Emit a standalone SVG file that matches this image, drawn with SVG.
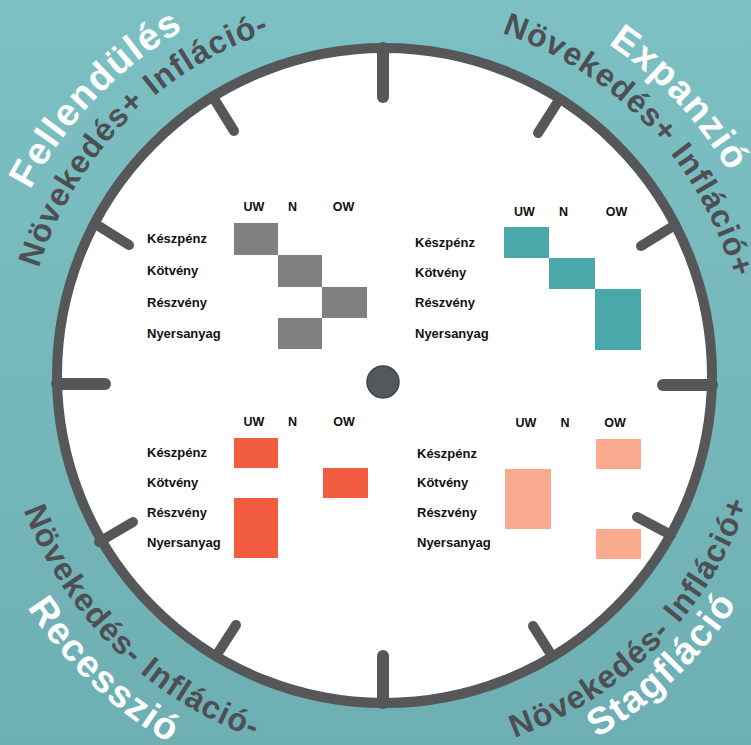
<svg xmlns="http://www.w3.org/2000/svg" xmlns:xlink="http://www.w3.org/1999/xlink" width="751" height="745" viewBox="0 0 751 745">
<defs>
<linearGradient id="bg" x1="0" y1="0" x2="0" y2="1">
<stop offset="0" stop-color="#7dc0c4"/>
<stop offset="1" stop-color="#6eafb3"/>
</linearGradient>
<path id="top362" d="M -232.7 -277.3 A 362 362 0 0 1 232.7 -277.3"/>
<path id="top400" d="M -257.1 -306.4 A 400 400 0 0 1 257.1 -306.4"/>
<path id="bot385" d="M -247.5 294.9 A 385 385 0 0 0 247.5 294.9"/>
<path id="bot426" d="M -273.8 326.3 A 426 426 0 0 0 273.8 326.3"/>
<path id="bot420" d="M -270.0 321.7 A 420 420 0 0 0 270.0 321.7"/>
<style>
.big{font-family:"Liberation Sans",Arial,sans-serif;font-weight:bold;font-size:38px;fill:#ffffff;letter-spacing:1.5px}
.sub{font-family:"Liberation Sans",Arial,sans-serif;font-weight:bold;font-size:32px;fill:#4d4f52;letter-spacing:1.2px}
.lbl{font-family:"Liberation Sans",Arial,sans-serif;font-weight:bold;font-size:13px;fill:#111}
.hdr{font-family:"Liberation Sans",Arial,sans-serif;font-weight:bold;font-size:12.5px;fill:#111;text-anchor:middle}
.tick{stroke:#555759;stroke-width:10;stroke-linecap:round;fill:none}
.axis{stroke:#555759;stroke-width:12;stroke-linecap:round;fill:none}
.gray{fill:#808080}
.teal{fill:#4aa8aa}
.red{fill:#f25c40}
.peach{fill:#f9aa8f}
</style>
</defs>
<rect width="751" height="745" fill="url(#bg)"/>
<g id="dial">
<circle cx="384.5" cy="375.5" r="327.5" fill="#ffffff"/>
<line class="axis" x1="383" y1="48" x2="383" y2="97"/>
<line class="axis" x1="383" y1="703" x2="383" y2="656"/>
<line class="axis" x1="57" y1="384" x2="105" y2="384"/>
<line class="axis" x1="712" y1="385" x2="663" y2="385"/>
<line class="tick" x1="213" y1="97" x2="234" y2="131"/>
<line class="tick" x1="97" y1="225" x2="129" y2="245"/>
<line class="tick" x1="559" y1="100" x2="538" y2="133"/>
<line class="tick" x1="675" y1="225" x2="641" y2="246"/>
<line class="tick" x1="99" y1="542" x2="133" y2="522"/>
<line class="tick" x1="216" y1="656" x2="236" y2="625"/>
<line class="tick" x1="671" y1="535" x2="637" y2="517"/>
<line class="tick" x1="552" y1="656" x2="533" y2="626"/>
<circle cx="384.5" cy="375.5" r="327.5" fill="none" stroke="#555759" stroke-width="10"/>
<circle cx="383" cy="382" r="16" fill="#53585b" stroke="#3f4345" stroke-width="1.5"/>
</g>
<g id="label-fellendules" transform="translate(384.5 375.5)">
<g transform="rotate(-46.2)"><text class="big" text-anchor="middle"><textPath href="#top400" xlink:href="#top400" startOffset="50%">Fellendülés</textPath></text></g>
<g transform="rotate(-45.6)"><text class="sub" text-anchor="middle"><textPath href="#top362" xlink:href="#top362" startOffset="50%">Növekedés+ Infláció-</textPath></text></g>
</g>
<g id="label-expanzio" transform="translate(384.5 375.5)">
<g transform="rotate(46.8)"><text class="big" text-anchor="middle"><textPath href="#top400" xlink:href="#top400" startOffset="50%">Expanzió</textPath></text></g>
<g transform="rotate(46.7)"><text class="sub" text-anchor="middle"><textPath href="#top362" xlink:href="#top362" startOffset="50%">Növekedés+ Infláció+</textPath></text></g>
</g>
<g id="label-recesszio" transform="translate(384.5 375.5)">
<g transform="rotate(43.6)"><text class="big" text-anchor="middle"><textPath href="#bot426" xlink:href="#bot426" startOffset="50%">Recesszió</textPath></text></g>
<g transform="rotate(44.6)"><text class="sub" text-anchor="middle"><textPath href="#bot385" xlink:href="#bot385" startOffset="50%">Növekedés- Infláció-</textPath></text></g>
</g>
<g id="label-stagflacio" transform="translate(384.5 375.5)">
<g transform="rotate(-43.8)"><text class="big" text-anchor="middle"><textPath href="#bot420" xlink:href="#bot420" startOffset="50%">Stagfláció</textPath></text></g>
<g transform="rotate(-45.3)"><text class="sub" text-anchor="middle"><textPath href="#bot385" xlink:href="#bot385" startOffset="50%">Növekedés- Infláció+</textPath></text></g>
</g>
<g id="table-fellendules">
<text class="hdr" x="254" y="211">UW</text>
<text class="hdr" x="292.5" y="211">N</text>
<text class="hdr" x="343.5" y="211">OW</text>
<text class="lbl" x="147" y="243">Készpénz</text>
<text class="lbl" x="147" y="275">Kötvény</text>
<text class="lbl" x="147" y="306.5">Részvény</text>
<text class="lbl" x="147" y="338">Nyersanyag</text>
<rect class="gray" x="234" y="223" width="44" height="32"/>
<rect class="gray" x="278" y="255" width="44" height="32"/>
<rect class="gray" x="322" y="287" width="45" height="31"/>
<rect class="gray" x="278" y="318" width="44" height="31"/>
</g>
<g id="table-expanzio">
<text class="hdr" x="524.5" y="215.5">UW</text>
<text class="hdr" x="563.5" y="215.5">N</text>
<text class="hdr" x="616.5" y="215.5">OW</text>
<text class="lbl" x="415" y="246.5">Készpénz</text>
<text class="lbl" x="415" y="277">Kötvény</text>
<text class="lbl" x="415" y="307">Részvény</text>
<text class="lbl" x="415" y="338">Nyersanyag</text>
<rect class="teal" x="504" y="227" width="45" height="31"/>
<rect class="teal" x="549" y="258" width="46" height="31"/>
<rect class="teal" x="595" y="289" width="46" height="61"/>
</g>
<g id="table-recesszio">
<text class="hdr" x="254" y="426">UW</text>
<text class="hdr" x="292.5" y="426">N</text>
<text class="hdr" x="344" y="426">OW</text>
<text class="lbl" x="147" y="457">Készpénz</text>
<text class="lbl" x="147" y="487.3">Kötvény</text>
<text class="lbl" x="147" y="516.7">Részvény</text>
<text class="lbl" x="147" y="546.7">Nyersanyag</text>
<rect class="red" x="234" y="438" width="44" height="30"/>
<rect class="red" x="323" y="468" width="45" height="30"/>
<rect class="red" x="234" y="498" width="44" height="60"/>
</g>
<g id="table-stagflacio">
<text class="hdr" x="526" y="427">UW</text>
<text class="hdr" x="565" y="427">N</text>
<text class="hdr" x="615" y="427">OW</text>
<text class="lbl" x="417" y="458">Készpénz</text>
<text class="lbl" x="417" y="487.3">Kötvény</text>
<text class="lbl" x="417" y="517.3">Részvény</text>
<text class="lbl" x="417" y="546.7">Nyersanyag</text>
<rect class="peach" x="596" y="439" width="45" height="30"/>
<rect class="peach" x="505" y="469" width="46" height="60"/>
<rect class="peach" x="596" y="529" width="45" height="30"/>
</g>
</svg>
